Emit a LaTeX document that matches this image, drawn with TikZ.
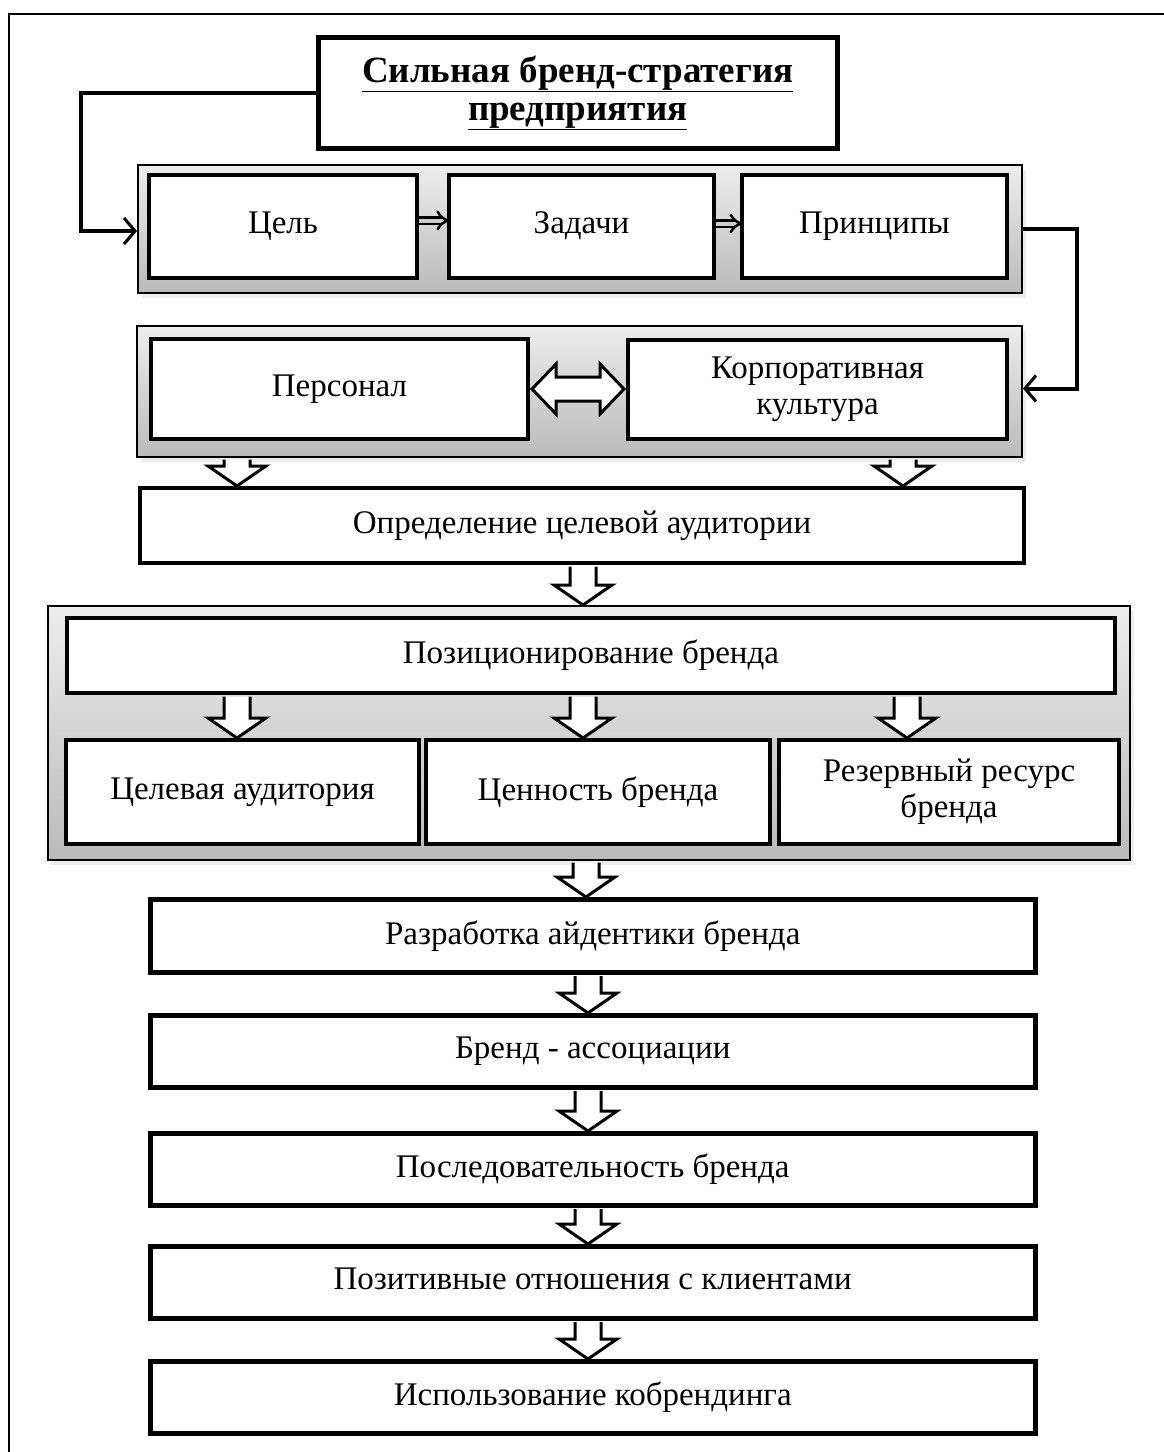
\documentclass[tikz,border=0pt]{standalone}
\usepackage{fontspec}
\setmainfont{Liberation Serif}
\usetikzlibrary{shadows,arrows.meta,calc}
\newcommand\fs{\fontsize{33}{36}\selectfont}
\newcommand\bdown[3]{\draw[barrow] let \p1=(#2.south), \p2=(#3.north) in
  (#1pt-13pt,\y1-1.5pt) -- (#1pt-13pt,\y2+20pt) -- (#1pt-29pt,\y2+20pt) -- (#1pt,\y2) --
  (#1pt+29pt,\y2+20pt) -- (#1pt+13pt,\y2+20pt) -- (#1pt+13pt,\y1-1.5pt);}
\newcommand\bdouble[2]{\draw[barrow] let \p1=(#1.east), \p2=(#2.west) in
  (\x1+2pt,\y1) -- (\x1+26pt,\y1+25pt) -- (\x1+26pt,\y1+12pt) -- (\x2-26pt,\y1+12pt) --
  (\x2-26pt,\y1+25pt) -- (\x2-2pt,\y1) -- (\x2-26pt,\y1-25pt) -- (\x2-26pt,\y1-12pt) --
  (\x1+26pt,\y1-12pt) -- (\x1+26pt,\y1-25pt) -- cycle;}
\newcommand\mystrut{\vphantom{Цр}}
\begin{document}
\begin{tikzpicture}[x=1pt,y=-1pt,
  cont/.style={draw=black, line width=2pt, top color=black!7, bottom color=black!27,
    drop shadow={shadow xshift=4pt, shadow yshift=-5pt, fill=black!14},
    anchor=north west, inner sep=0pt},
  ibox/.style={draw=black, line width=4pt, fill=white, anchor=north west, align=center,
    inner sep=2pt, font=\fs, execute at begin node=\mystrut, execute at end node=\mystrut},
  lbox/.style={ibox, line width=4.5pt},
  barrow/.style={draw=black, fill=white, line width=3pt, line join=miter},
  conn/.style={line width=4pt, -{Straight Barb[length=11pt,width=26pt,line width=3pt]}},
  small/.style={double=black!20, double distance=4pt, line width=2.5pt,
    -{Implies[]}, shorten >=-3pt}
]
\useasboundingbox (0,0) rectangle (1164,1452);
\draw[line width=2pt] (9,1452) -- (9,14) -- (1164,14);

% title
\node[ibox, line width=4.5pt, minimum width=519pt, minimum height=111pt,
  font=\fontsize{37}{38}\selectfont\bfseries] (title) at (316,35)
  {\underline{Сильная бренд-стратегия}\\\underline{предприятия}};

% container 1
\node[cont, minimum width=884pt, minimum height=128pt] (c1) at (137,164) {};
\node[ibox, minimum width=268pt, minimum height=103pt] (cel) at (147,173) {Цель};
\node[ibox, minimum width=265pt, minimum height=103pt] (zad) at (447,173) {Задачи};
\node[ibox, minimum width=265pt, minimum height=103pt] (pri) at (740,173) {Принципы};
\draw[small] ([yshift=6pt]cel.east) -- ([yshift=6pt]zad.west);
\draw[small] ([yshift=3pt]zad.east) -- ([yshift=3pt]pri.west);

% container 2
\node[cont, minimum width=885pt, minimum height=131pt] (c2) at (136,325) {};
\node[ibox, minimum width=377pt, minimum height=100pt] (per) at (149,337) {Персонал};
\node[ibox, minimum width=379pt, minimum height=99pt] (kor) at (626,338) {Корпоративная\\культура};
\bdouble{per}{kor}

% connectors
\draw[conn] (title.west) -- ++(-235,0) |- ([yshift=-2pt]c1.west);
\draw[conn] (c1.east) -- ++(54,0) |- ([yshift=3pt]c2.east);

% target audience definition
\node[ibox, minimum width=884pt, minimum height=75pt] (opr) at (138,486) {Определение целевой аудитории};
\bdown{237}{c2}{opr}
\bdown{903}{c2}{opr}

% container 3
\node[cont, minimum width=1082pt, minimum height=254pt] (c3) at (47,605) {};
\node[ibox, minimum width=1048pt, minimum height=75pt] (pos) at (65,616) {Позиционирование бренда};
\node[ibox, minimum width=353pt, minimum height=104pt] (ta) at (64,738) {Целевая аудитория};
\node[ibox, minimum width=344pt, minimum height=104pt] (cb) at (424,738) {Ценность бренда};
\node[ibox, minimum width=340pt, minimum height=104pt] (rr) at (777,738) {Резервный ресурс\\бренда};
\bdown{583}{opr}{c3}
\bdown{237}{pos}{ta}
\bdown{583}{pos}{cb}
\bdown{907}{pos}{rr}

% lower chain
\node[lbox, minimum width=885pt, minimum height=73pt] (raz) at (148,897) {Разработка айдентики бренда};
\node[lbox, minimum width=885pt, minimum height=72pt] (ass) at (148,1013) {Бренд - ассоциации};
\node[lbox, minimum width=885pt, minimum height=72pt] (pos2) at (148,1131) {Последовательность бренда};
\node[lbox, minimum width=885pt, minimum height=72pt] (otn) at (148,1244) {Позитивные отношения с клиентами};
\node[lbox, minimum width=885pt, minimum height=72pt] (kob) at (148,1359) {Использование кобрендинга};
\bdown{586}{c3}{raz}
\bdown{588}{raz}{ass}
\bdown{588}{ass}{pos2}
\bdown{588}{pos2}{otn}
\bdown{588}{otn}{kob}
\end{tikzpicture}
\end{document}
